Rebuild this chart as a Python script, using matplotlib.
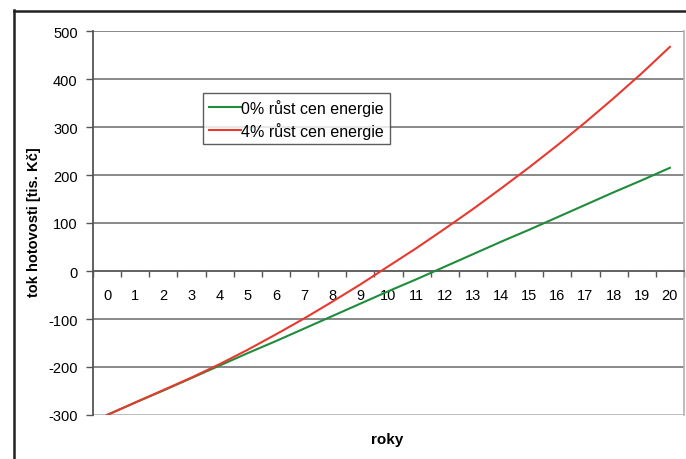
import matplotlib
matplotlib.use("Agg")
import matplotlib.pyplot as plt
from matplotlib.lines import Line2D

plt.rcParams['font.family'] = ['Liberation Sans', 'DejaVu Sans']

years = list(range(0, 21))
year_labels = [str(y) for y in years]
series_names = ["0% růst cen energie", "4% růst cen energie"]
green_values = [-300, -274, -249, -223, -197, -171, -146, -120, -94, -68, -42,
                -17, 9, 35, 61, 86, 112, 138, 164, 189, 215]
red_values = [-300, -274, -248, -222, -194, -164, -132, -99, -64, -28, 10,
              48, 88, 129, 172, 216, 262, 310, 360, 412, 467]
y_ticks = [-300, -200, -100, 0, 100, 200, 300, 400, 500]

W, H = 686, 460
fig = plt.figure(figsize=(W / 100, H / 100), dpi=100)
ax = fig.add_axes([93 / W, 1 - 416 / H, (684 - 93) / W, (416 - 32) / H])

grid_c = '#7f7f7f'
for v in y_ticks:
    if v in (-300, 0):
        continue
    ax.axhline(v, color=grid_c, lw=1.3, zorder=1)
ax.axhline(-300, color='#b0b0b0', lw=1.2, zorder=1)

ax.plot(years, green_values, color='#1e8c3a', lw=1.5, zorder=3, label=series_names[0])
ax.plot(years, red_values, color='#e8392e', lw=1.5, zorder=4, label=series_names[1])

ax.set_xlim(-0.5, 20.5)
ax.set_ylim(-300, 500)
ax.set_yticks(y_ticks)
ax.set_yticklabels([str(v) for v in y_ticks], fontsize=10.5)
ax.tick_params(axis='y', length=5, width=1, color='#555555', pad=6)

# x axis at y = 0
ax.spines['bottom'].set_position(('data', 0))
ax.spines['bottom'].set_color('#555555')
ax.spines['bottom'].set_linewidth(1.3)
ax.spines['left'].set_color('#555555')
ax.spines['left'].set_linewidth(1.3)
ax.spines['top'].set_visible(False)
ax.spines['right'].set_color('#b0b0b0')
ax.spines['right'].set_linewidth(1.2)

ax.set_xticks([x - 0.5 for x in years] + [20.5])
ax.set_xticklabels([])
ax.set_xticks(years, minor=True)
ax.set_xticklabels(year_labels, minor=True, fontsize=10.5)
ax.tick_params(axis='x', which='major', length=4, width=1, color='#555555', direction='out')
ax.tick_params(axis='x', which='minor', length=0, pad=12)

leg = ax.legend(loc='upper left', bbox_to_anchor=((203 - 93) / (684 - 93), 1 - (94 - 32) / (416 - 32)),
                fontsize=11.5, frameon=True, fancybox=False, handlelength=2.0, handletextpad=0.05,
                borderpad=0.35, labelspacing=0.4, borderaxespad=0)
leg.get_frame().set_edgecolor('#333333')
leg.get_frame().set_linewidth(1.0)
leg.set_zorder(6)

fig.text(34 / W, 1 - 222 / H, "tok hotovosti [tis. Kč]", rotation=90, ha='center', va='center',
         fontsize=10.5, fontweight='bold')
fig.text(387 / W, 1 - 440 / H, "roky", ha='center', va='center', fontsize=11, fontweight='bold')

fig.add_artist(Line2D([13.5 / W, 13.5 / W], [0, 1 - 11 / H], color='#222222', lw=1.8,
                      transform=fig.transFigure))
fig.add_artist(Line2D([13.5 / W, 1], [1 - 11.5 / H, 1 - 11.5 / H], color='#222222', lw=1.8,
                      transform=fig.transFigure))

fig.savefig("out.png", dpi=100)
